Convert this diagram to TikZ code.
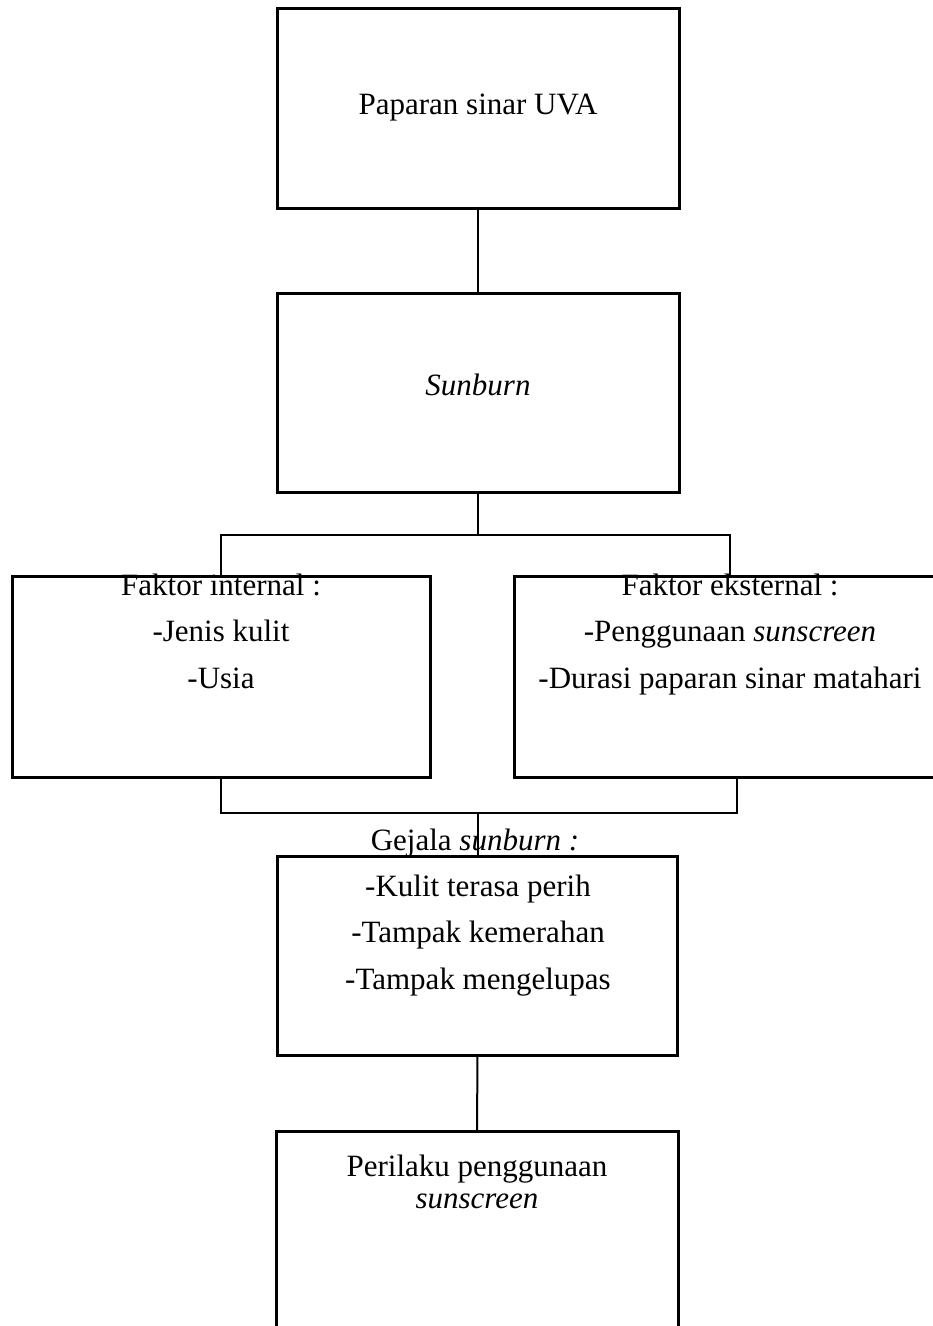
\documentclass[tikz,border=0pt]{standalone}
\usepackage{fontspec}
\setmainfont{Liberation Serif}
\begin{document}
\begin{tikzpicture}[x=1pt,y=-1pt,
  box/.style={draw=black,line width=3pt,rectangle,inner sep=0pt,outer sep=0pt},
  conn/.style={draw=black,line width=2pt},
  txt/.style={anchor=base,inner sep=0pt,font=\fontsize{31}{37}\selectfont}]
\clip (0,0) rectangle (933,1326);
\fill[white] (0,0) rectangle (933,1326);
% boxes
\node[box,minimum width=402pt,minimum height=200pt] (b1) at (478,108) {};
\node[box,minimum width=402pt,minimum height=199pt] (b2) at (478,392.5) {};
\node[box,minimum width=418pt,minimum height=201pt] (bl) at (221,676.5) {};
\node[box,minimum width=432pt,minimum height=201pt] (br) at (730,676.5) {};
\node[box,minimum width=400pt,minimum height=199pt] (b3) at (477.5,955.5) {};
\node[box,minimum width=402pt,minimum height=210pt] (b4) at (477,1236) {};
% junction coordinates
\coordinate (jt) at (478,535);
\coordinate (jtl) at (221,535);
\coordinate (jtr) at (730,535);
\coordinate (jbl) at (221,813);
\coordinate (jbr) at (737,813);
\coordinate (jbm) at (477.5,813);
% connectors
\draw[conn] (b1.south) -- (b2.north);
\draw[conn] (b2.south) -- (jt);
\draw[conn] (jtl |- bl.north) -- (jtl) -- (jtr) -- (br.north);
\draw[conn] (bl.south) -- (jbl) -- (jbr) -- (jbr |- br.south);
\draw[conn] (jbm) -- (b3.north);
\draw[conn] (b3.south) -- (b4.north);
% texts
\node[txt] (t1) at (478,114) {Paparan sinar UVA};
\node[txt] (t2) at (478,395) {\itshape Sunburn};
\node[txt] (tl1) at (221,595) {Faktor internal :};
\node[txt] (tl2) at (221,641) {-Jenis kulit};
\node[txt] (tl3) at (221,688) {-Usia};
\node[txt] (tr1) at (730,595) {Faktor eksternal :};
\node[txt] (tr2) at (730,641) {-Penggunaan \textit{sunscreen}};
\node[txt] (tr3) at (730,688) {-Durasi paparan sinar matahari};
\node[txt] (tg) at (475,850) {Gejala \textit{sunburn :}};
\node[txt] (t31) at (478,896) {-Kulit terasa perih};
\node[txt] (t32) at (478,942.5) {-Tampak kemerahan};
\node[txt] (t33) at (478,989) {-Tampak mengelupas};
\node[txt] (t41) at (477,1176) {Perilaku penggunaan};
\node[txt] (t42) at (477,1208) {\itshape sunscreen};
\end{tikzpicture}
\end{document}
